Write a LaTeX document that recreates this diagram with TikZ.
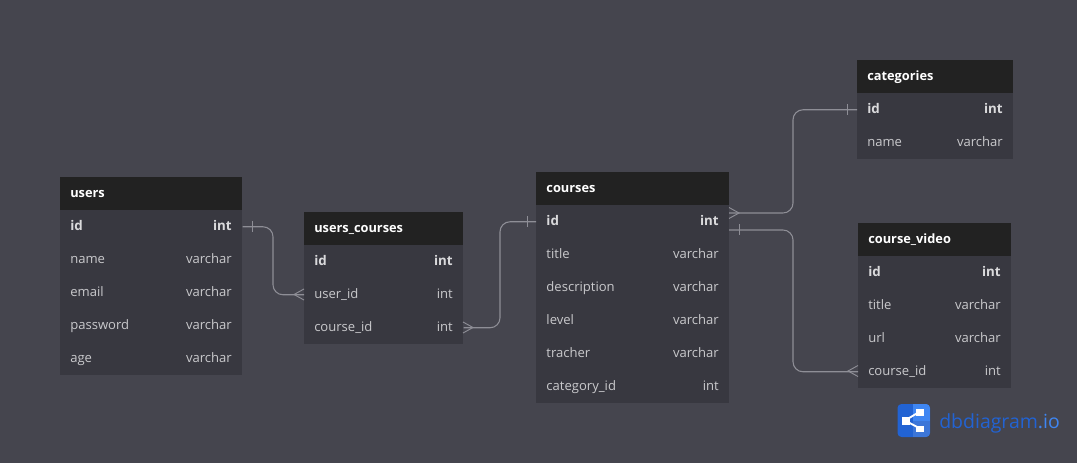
\documentclass[tikz,border=0pt]{standalone}
\usepackage{fontspec}
\setmainfont{Open Sans}
\newfontfamily\logofont{Open Sans}
\definecolor{bg}{HTML}{45454E}
\definecolor{hd}{HTML}{222222}
\definecolor{bodyc}{HTML}{383840}
\definecolor{txt}{HTML}{C9C9CC}
\definecolor{txtb}{HTML}{DADADC}
\definecolor{rel}{HTML}{8E8E96}
\definecolor{logoa}{HTML}{2263D3}
\definecolor{logob}{HTML}{3F86F2}
\tikzset{
  x=0.75pt,y=-0.75pt,
  rowbox/.style={fill=bodyc,inner sep=0pt,minimum height=24.75pt,anchor=north west},
  headbox/.style={fill=hd,inner sep=0pt,minimum height=24.75pt,anchor=north west},
  ltext/.style={anchor=base west,inner sep=0pt,text=txt,font=\fontsize{9.8}{12}\selectfont},
  rtext/.style={anchor=base east,inner sep=0pt,text=txt,font=\fontsize{9.8}{12}\selectfont},
  ltextb/.style={ltext,text=txtb,font=\fontsize{10}{12}\selectfont\bfseries},
  rtextb/.style={rtext,text=txtb,font=\fontsize{10}{12}\selectfont\bfseries},
  titletext/.style={anchor=base west,inner sep=0pt,text=white,font=\fontsize{9.6}{12}\selectfont\bfseries},
  relline/.style={draw=rel,line width=0.8pt,rounded corners=7.5pt},
  mark line/.style={draw=rel,line width=0.7pt},
}
% name, x, top y, width, title
\newcommand{\tblhead}[5]{%
  \node[headbox,minimum width=#4*0.75pt] (#1) at (#2,#3) {};
  \node[titletext] (#1-title) at (#2+10,#3+20.8) {#5};
}
% table, key, x, top y, width, left, right, style suffix
\newcommand{\tblrow}[8]{%
  \node[rowbox,minimum width=#5*0.75pt] (#1-#2) at (#3,#4) {};
  \node[ltext#8] (#1-#2-l) at (#3+10,#4+20.4) {#6};
  \node[rtext#8] (#1-#2-r) at (#3+#5-10,#4+20.4) {#7};
}
\newcommand{\onebar}[3]{\draw[mark line] (#1,#2-5.5) -- (#1,#2+5.5);}
\begin{document}
\begin{tikzpicture}
\useasboundingbox (0,0) rectangle (1077,463);
\fill[bg] (0,0) rectangle (1077,463);

% users
\tblhead{users}{60}{177}{182}{users}
\tblrow{users}{id}{60}{210}{182}{id}{int}{b}
\tblrow{users}{name}{60}{243}{182}{name}{varchar}{}
\tblrow{users}{email}{60}{276}{182}{email}{varchar}{}
\tblrow{users}{password}{60}{309}{182}{password}{varchar}{}
\tblrow{users}{age}{60}{342}{182}{age}{varchar}{}
% users_courses
\tblhead{uc}{304}{212}{159}{users\_courses}
\tblrow{uc}{id}{304}{245}{159}{id}{int}{b}
\tblrow{uc}{user}{304}{278}{159}{user\_id}{int}{}
\tblrow{uc}{course}{304}{311}{159}{course\_id}{int}{}
% courses
\tblhead{courses}{536.2}{172}{192.8}{courses}
\tblrow{courses}{id}{536.2}{205}{192.8}{id}{int}{b}
\tblrow{courses}{title}{536.2}{238}{192.8}{title}{varchar}{}
\tblrow{courses}{description}{536.2}{271}{192.8}{description}{varchar}{}
\tblrow{courses}{level}{536.2}{304}{192.8}{level}{varchar}{}
\tblrow{courses}{tracher}{536.2}{337}{192.8}{tracher}{varchar}{}
\tblrow{courses}{category}{536.2}{370}{192.8}{category\_id}{int}{}
% categories
\tblhead{cat}{857}{60}{156}{categories}
\tblrow{cat}{id}{857}{93}{156}{id}{int}{b}
\tblrow{cat}{name}{857}{126}{156}{name}{varchar}{}
% course_video
\tblhead{cv}{858}{223}{153}{course\_video}
\tblrow{cv}{id}{858}{256}{153}{id}{int}{b}
\tblrow{cv}{title}{858}{289}{153}{title}{varchar}{}
\tblrow{cv}{url}{858}{322}{153}{url}{varchar}{}
\tblrow{cv}{course}{858}{355}{153}{course\_id}{int}{}

% connectors
\coordinate (m1) at (273,260);
\coordinate (m2) at (500,260);
\coordinate (m3) at (793,160);
\coordinate (m4) at (793,300);
\coordinate (cfrom) at (729,213);
\coordinate (cfrom2) at (729,230);
\draw[relline] (users-id.east) -| (m1) |- (uc-user.west);
\draw[relline] (uc-course.east) -| (m2) |- (courses-id.west);
\draw[relline] (cfrom) -| (m3) |- (cat-id.west);
\draw[relline] (cfrom2) -| (m4) |- (cv-course.west);

% cardinality marks
\onebar{252}{226.5}{}
\onebar{527}{221.5}{}
\onebar{847}{109.5}{}
\onebar{739}{230}{}
\draw[mark line] (304,289) -- (294,294.5) -- (304,300);
\draw[mark line] (463,322) -- (473,327.5) -- (463,333);
\draw[mark line] (729,207.5) -- (739,213) -- (729,218.5);
\draw[mark line] (858,365.5) -- (848,371) -- (858,376.5);

% logo
\fill[logoa,rounded corners=3pt] (897.5,404) rectangle (930,437);
\begin{scope}
\clip[rounded corners=3pt] (897.5,404) rectangle (930,437);
\fill[logob] (913,404) rectangle (930,421);
\fill[logoa!88!white] (913,421) rectangle (930,437);
\end{scope}
\draw[white,line width=1.4pt] (905,420.5) -- (920,411.5) (905,420.5) -- (920,428.5);
\fill[white] (902,417) rectangle (910,424.5);
\fill[white] (916,409) rectangle (923.5,416);
\fill[white] (916,425.5) rectangle (923.5,432);
\node[anchor=base west,inner sep=0pt,font=\logofont\fontsize{14.6}{18}\selectfont] (logotext) at (939,428) {\textcolor{logoa}{dbdiagram}\textcolor{logob}{.io}};
\end{tikzpicture}
\end{document}
